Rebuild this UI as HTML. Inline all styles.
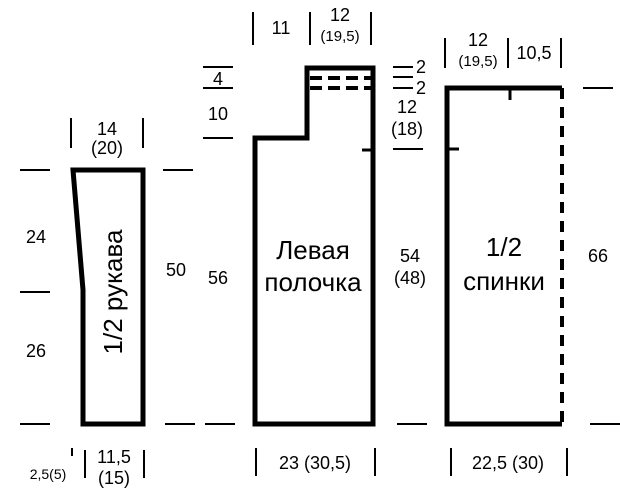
<!DOCTYPE html>
<html><head><meta charset="utf-8"><style>
body{margin:0;background:#fff}
svg{display:block}
text{font-family:"Liberation Sans Narrow","Liberation Sans",sans-serif;fill:#000}
</style></head><body>
<svg width="620" height="504" viewBox="0 0 620 504" xmlns="http://www.w3.org/2000/svg">
<g fill="none" stroke="#000" stroke-width="5" stroke-linejoin="miter">
<path d="M73,170 L143,170 L143,424 L83,424 L83,290 Z"/>
<path d="M255,424 L255,138 L307,138 L307,68 L373,68 L373,424 Z"/>
<line x1="362" y1="150" x2="373" y2="150" stroke-width="3"/>
<path d="M562,88 L447,88 L447,424 L562,424"/>
<line x1="562" y1="88" x2="562" y2="424" stroke-width="4" stroke-dasharray="11,8"/>
<line x1="510" y1="88" x2="510" y2="100" stroke-width="3"/>
<line x1="447" y1="149" x2="459" y2="149" stroke-width="3"/>
</g>
<g stroke="#000" stroke-width="4" stroke-dasharray="12,6">
<line x1="310" y1="78" x2="372" y2="78"/>
<line x1="310" y1="88" x2="372" y2="88"/>
</g>
<g stroke="#000" stroke-width="2">
<line x1="20" y1="170" x2="50" y2="170"/>
<line x1="20" y1="292" x2="50" y2="292"/>
<line x1="20" y1="424" x2="50" y2="424"/>
<line x1="163" y1="170" x2="193" y2="170"/>
<line x1="165" y1="424" x2="195" y2="424"/>
<line x1="205" y1="424" x2="235" y2="424"/>
<line x1="203" y1="67" x2="233" y2="67"/>
<line x1="203" y1="88" x2="233" y2="88"/>
<line x1="203" y1="138" x2="233" y2="138"/>
<line x1="393" y1="67" x2="413" y2="67"/>
<line x1="393" y1="77" x2="413" y2="77"/>
<line x1="393" y1="88" x2="413" y2="88"/>
<line x1="393" y1="149" x2="423" y2="149"/>
<line x1="397" y1="424" x2="427" y2="424"/>
<line x1="583" y1="88" x2="613" y2="88"/>
<line x1="590" y1="424" x2="620" y2="424"/>
<line x1="71" y1="118" x2="71" y2="148"/>
<line x1="143" y1="118" x2="143" y2="148"/>
<line x1="253" y1="12" x2="253" y2="45"/>
<line x1="310" y1="12" x2="310" y2="45"/>
<line x1="371" y1="12" x2="371" y2="45"/>
<line x1="445" y1="38" x2="445" y2="68"/>
<line x1="508" y1="38" x2="508" y2="68"/>
<line x1="561" y1="38" x2="561" y2="68"/>
<line x1="72" y1="448" x2="72" y2="456"/>
<line x1="85" y1="450" x2="85" y2="478"/>
<line x1="144" y1="450" x2="144" y2="478"/>
<line x1="256" y1="448" x2="256" y2="476"/>
<line x1="375" y1="448" x2="375" y2="476"/>
<line x1="451" y1="448" x2="451" y2="476"/>
<line x1="567" y1="448" x2="567" y2="476"/>
</g>
<g font-size="18" text-anchor="middle">
<text x="107" y="135">14</text><text x="107" y="154">(20)</text>
<text x="36" y="243">24</text>
<text x="36" y="357">26</text>
<text x="176" y="276">50</text>
<text x="281" y="34">11</text>
<text x="340" y="21">12</text><text x="340" y="41" font-size="15">(19,5)</text>
<text x="218" y="85">4</text>
<text x="218" y="120">10</text>
<text x="218" y="284">56</text>
<text x="421" y="73">2</text><text x="421" y="94">2</text>
<text x="407" y="113">12</text><text x="407" y="135">(18)</text>
<text x="410" y="262">54</text><text x="410" y="284">(48)</text>
<text x="478" y="46">12</text><text x="478" y="66" font-size="15">(19,5)</text>
<text x="534" y="59">10,5</text>
<text x="598" y="262">66</text>
<text x="114" y="463">11,5</text><text x="114" y="484">(15)</text>
<text x="48" y="479" font-size="14">2,5(5)</text>
<text x="315" y="469">23  (30,5)</text>
<text x="508" y="469">22,5  (30)</text>
</g>
<g font-size="26" text-anchor="middle">
<text x="313" y="259">Левая</text><text x="313" y="291">полочка</text>
<text x="504" y="256">1/2</text><text x="504" y="290">спинки</text>
<text transform="translate(122,292) rotate(-90)">1/2 рукава</text>
</g>
</svg>
</body></html>
